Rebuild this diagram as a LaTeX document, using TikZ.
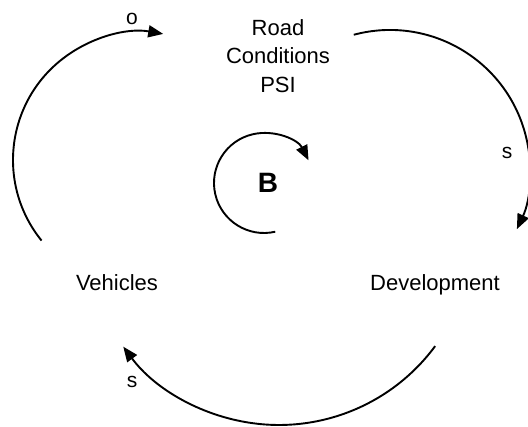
\documentclass[tikz,border=0pt]{standalone}
\usepackage{fontspec}
\setmainfont{Liberation Sans}
\usetikzlibrary{arrows.meta}

\begin{document}
\begin{tikzpicture}[x=1pt,y=1pt,>={Triangle[length=15pt,width=12pt]}]
  \tikzstyle{var}=[inner sep=0pt,align=center,font=\fontsize{22}{28.5}\selectfont]
  \tikzstyle{pol}=[inner sep=0pt,font=\fontsize{21}{24}\selectfont]
  \tikzstyle{link}=[->,line width=1.9pt]
  \useasboundingbox (0,0) rectangle (528,427);
  \node[var] (road) at (278,371) {Road\\Conditions\\PSI};
  \node[var,anchor=base] (veh) at (117,136) {Vehicles};
  \node[var,anchor=base] (dev) at (435,136) {Development};
  \node[inner sep=0pt,font=\fontsize{28}{32}\selectfont\bfseries] (bal) at (268,244) {B};
  % centres of the loop arcs
  \coordinate (lc) at (141,267);
  \coordinate (rc) at (390,257);
  \coordinate (bc) at (279,196);
  \coordinate (ic) at (264,244);
  \draw[link] ([shift={(219:128)}]lc) arc[start angle=219,end angle=80,radius=128];
  \draw[link] ([shift={(105:140)}]rc) arc[start angle=105,end angle=-25,radius=140];
  \draw[link] ([shift={(-36.4:194)}]bc) arc[start angle=-36.4,end angle=-143.4,radius=194];
  \draw[link] ([shift={(-77:50)}]ic) arc[start angle=-77,end angle=-333,radius=50];
  \node[pol] (p1) at (132,408) {o};
  \node[pol] (p2) at (507,274) {s};
  \node[pol] (p3) at (132,45) {s};
\end{tikzpicture}
\end{document}
